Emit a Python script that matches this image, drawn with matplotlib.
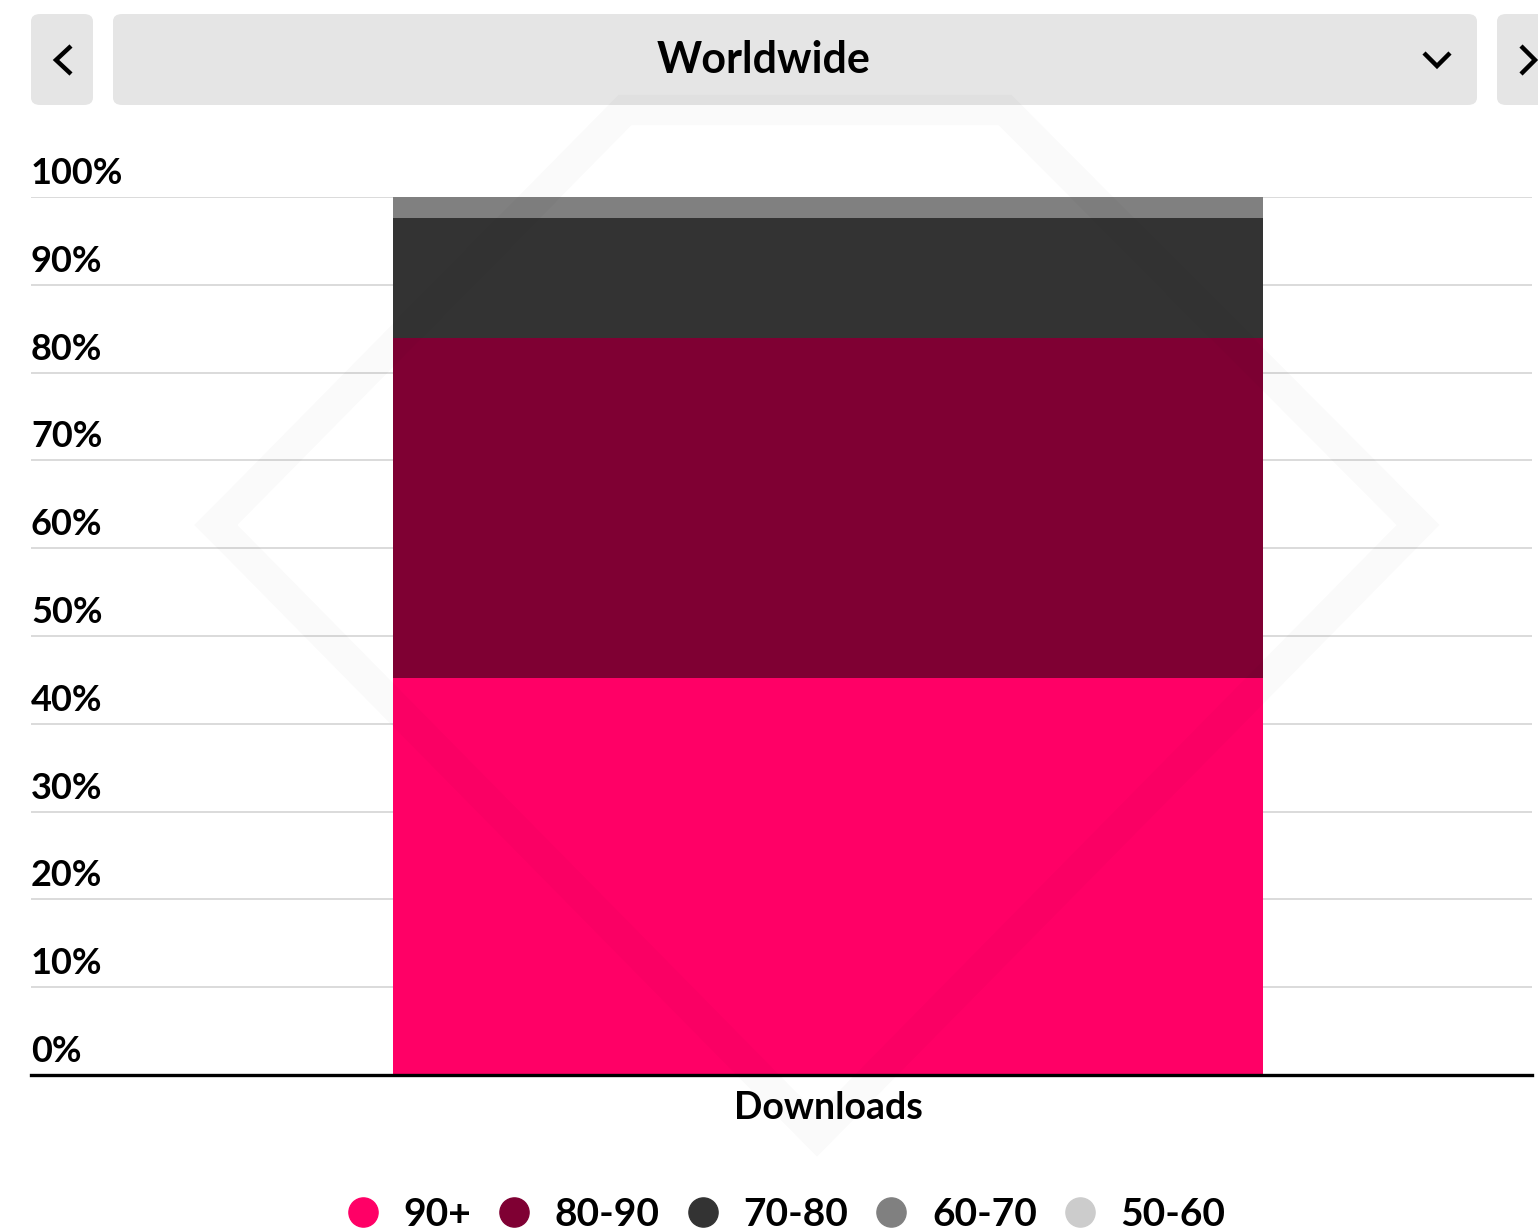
import numpy as np
import matplotlib.pyplot as plt
from matplotlib.patches import FancyBboxPatch
from matplotlib.lines import Line2D

plt.rcParams['font.family'] = ['Lato', 'DejaVu Sans']

# data
category = ['Downloads']
groups = ['90+', '80-90', '70-80', '60-70', '50-60']
shares = [45.2, 38.7, 13.7, 2.4, 0.0]
colors = ['#ff0066', '#7f0033', '#333333', '#808080', '#cccccc']
yticks = [0, 10, 20, 30, 40, 50, 60, 70, 80, 90, 100]
title = 'Worldwide'

W, H = 1538, 1231
fig = plt.figure(figsize=(W / 100, H / 100), dpi=100)

# axes box in pixel terms: x 31..1532, y 197..1075
ax = fig.add_axes([31 / W, 1 - 1075 / H, (1532 - 31) / W, (1075 - 197) / H])

bottom = 0
for g, v, c in zip(groups, shares, colors):
    ax.bar(category, [v], bottom=bottom, color=c, width=0.58, zorder=3)
    bottom += v

ax.set_xlim(-0.531, 0.469)
ax.set_ylim(0, 100)
ax.set_yticks(yticks)
ax.yaxis.grid(True, color='#d4d4d4', lw=1.2, zorder=0)
ax.tick_params(left=False, bottom=False, labelleft=False, labelbottom=False)
for s in ['top', 'right', 'left']:
    ax.spines[s].set_visible(False)
ax.spines['bottom'].set_linewidth(2.4)
ax.spines['bottom'].set_zorder(5)

trans = ax.get_yaxis_transform()
for t in yticks:
    ax.text(0, t + 0.8, f'{t}%', transform=trans, ha='left', va='bottom',
            fontsize=26, fontweight='bold', color='black')

ax.text(0, -1.8, category[0], ha='center', va='top', fontsize=27,
        fontweight='bold')

# faint logo watermark
wx = [216, 625, 1005, 1418, 817, 216]
wy = [525, 110, 110, 525, 1135, 525]
fig.add_artist(Line2D([x / W for x in wx], [1 - y / H for y in wy],
                      transform=fig.transFigure, color='black', alpha=0.018,
                      lw=22, solid_joinstyle='miter', zorder=4))

# header controls
def box(x0, x1):
    p = FancyBboxPatch((x0 / W, 1 - 105 / H), (x1 - x0) / W, 91 / H,
                       boxstyle='round,pad=0,rounding_size=0.006',
                       transform=fig.transFigure, fc='#e5e5e5', ec='none')
    fig.patches.append(p)

def chevron(xs, ys):
    fig.add_artist(Line2D([x / W for x in xs], [1 - y / H for y in ys],
                          transform=fig.transFigure, color='black', lw=3.2,
                          solid_joinstyle='miter', solid_capstyle='butt'))

box(31, 93)
box(113, 1477)
box(1497, 1560)
fig.text(764 / W, 1 - 60 / H, title, ha='center', va='center', fontsize=31,
         fontweight='bold')
chevron([71, 56, 71], [46, 60, 74])
chevron([1424, 1437, 1450], [53, 66, 53])
chevron([1521, 1535, 1521], [46, 60, 74])

handles = [Line2D([], [], marker='o', ls='none', color=c, markersize=21) for c in colors]
fig.legend(handles, groups, loc='lower center', bbox_to_anchor=(0.51, -0.029), ncol=5,
           frameon=False, prop={'size': 28, 'weight': 'bold'}, handlelength=1.0,
           handletextpad=0.55, columnspacing=0.6)

fig.savefig('out.png', dpi=100)
